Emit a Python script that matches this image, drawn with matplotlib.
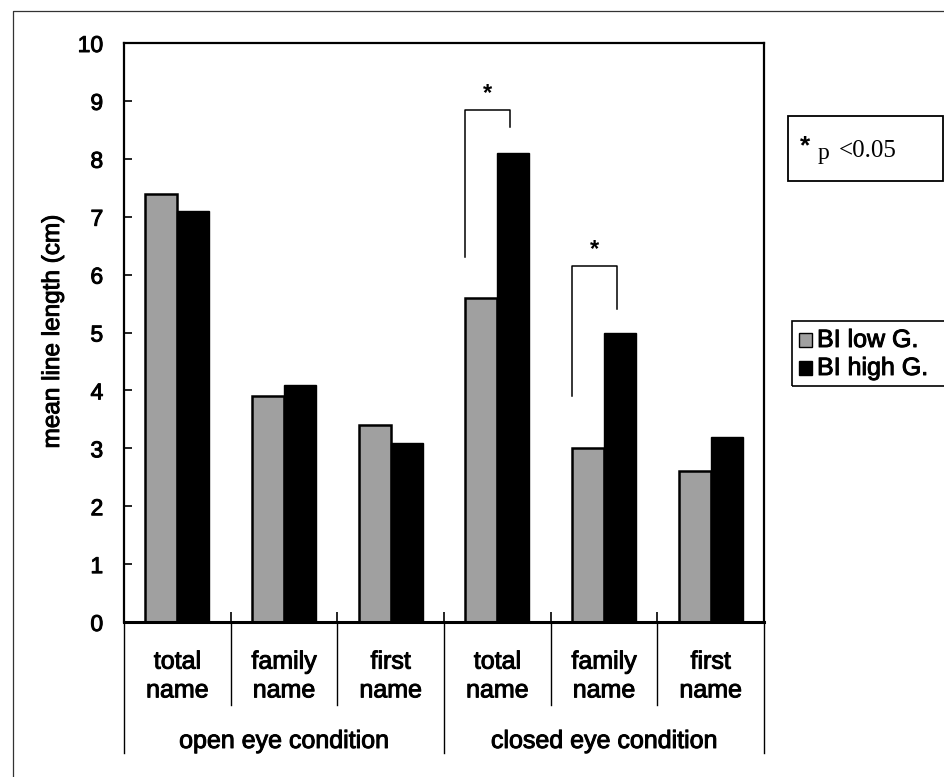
import matplotlib
matplotlib.use("Agg")
import matplotlib.pyplot as plt
from matplotlib.patches import Rectangle
from matplotlib.lines import Line2D
import matplotlib.patheffects as pe

plt.rcParams['font.family'] = ['Liberation Sans', 'DejaVu Sans']
thick = [pe.withStroke(linewidth=0.7, foreground='black')]

# ---- data ----
sub_labels = ["total\nname", "family\nname", "first\nname",
              "total\nname", "family\nname", "first\nname"]
group_labels = ["open eye condition", "closed eye condition"]
series_names = ["BI low G.", "BI high G."]
low_values = [7.4, 3.9, 3.4, 5.6, 3.0, 2.6]
high_values = [7.1, 4.1, 3.1, 8.1, 5.0, 3.2]
y_ticks = [0, 1, 2, 3, 4, 5, 6, 7, 8, 9, 10]
# significance brackets: category index, left leg bottom, bracket top, right leg bottom
sig_cat = [3, 4]
sig_left_bottom = [6.3, 3.9]
sig_top = [8.85, 6.15]
sig_right_bottom = [8.55, 5.4]
sig_text = "*"
p_note_star = "*"
p_note_text = "p"
p_note_val = "<0.05"

W, H = 945, 777
fig = plt.figure(figsize=(W / 100, H / 100), dpi=100)
ax_l, ax_r, ax_t, ax_b = 124, 764, 43, 622
ax = fig.add_axes([ax_l / W, 1 - ax_b / H, (ax_r - ax_l) / W, (ax_b - ax_t) / H])

n = len(sub_labels)
centers = [i + 0.5 for i in range(n)]
bw = 0.3
gray = '#a0a0a0'
ax.bar([c - bw / 2 for c in centers], low_values, width=bw, color=gray,
       edgecolor='black', linewidth=1.8, label=series_names[0], zorder=2)
ax.bar([c + bw / 2 for c in centers], high_values, width=bw, color='black',
       edgecolor='black', linewidth=1.0, label=series_names[1], zorder=2)

ax.set_xlim(0, n)
ax.set_ylim(0, 10)
ax.set_yticks(y_ticks)
ax.set_yticklabels([str(v) for v in y_ticks], fontsize=16.5)
for t in ax.get_yticklabels():
    t.set_path_effects(thick)
ax.tick_params(axis='y', direction='in', length=6, width=1.2, pad=15)
ax.set_xticks(list(range(1, n)))
ax.set_xticklabels([])
ax.tick_params(axis='x', direction='in', length=7, width=1.2)
for s in ax.spines.values():
    s.set_linewidth(1.6)
ax.spines['bottom'].set_linewidth(2.2)

# category labels and divider lines below the axis
axh = ax_b - ax_t
def yfrac(px):
    return (ax_b - px) / axh
tr = ax.get_xaxis_transform()
for c, lab in zip(centers, sub_labels):
    ax.text(c, yfrac(676), lab, transform=tr, ha='center', va='center',
            fontsize=18, linespacing=1.25, path_effects=thick)
for b in range(0, n + 1):
    end = 753 if b % 3 == 0 else 705
    ax.add_line(Line2D([b, b], [0, yfrac(end)], transform=tr, color='black',
                       linewidth=1.0, clip_on=False))
for g, lab in enumerate(group_labels):
    ax.text(g * 3 + 1.5, yfrac(741), lab, transform=tr, ha='center',
            va='center', fontsize=18, path_effects=thick)

# y label
fig.text(53 / W, 1 - 332 / H, "mean line length (cm)", rotation=90,
         ha='center', va='center', fontsize=17.5, path_effects=thick)

# significance brackets
for ci, lb, tp, rb in zip(sig_cat, sig_left_bottom, sig_top, sig_right_bottom):
    xl = centers[ci] - bw
    xr = centers[ci] + 0.12
    ax.plot([xl, xl, xr, xr], [lb, tp, tp, rb], color='black', linewidth=1.1,
            zorder=3)
    ax.text((xl + xr) / 2, tp + 0.08, sig_text, ha='center', va='bottom',
            fontsize=17, fontweight='bold')

# outer frame (left and top visible)
fig.add_artist(Line2D([13 / W, 13 / W, 1.02], [-0.02, 1 - 11 / H, 1 - 11 / H],
                      transform=fig.transFigure, color='#333333', linewidth=0.9))

# p-value note box
def fx(px):
    return px / W
def fy(py):
    return 1 - py / H
fig.add_artist(Rectangle((fx(788), fy(181)), fx(943) - fx(788), fy(116) - fy(181),
                         transform=fig.transFigure, fill=False,
                         edgecolor='black', linewidth=1.3))
fig.text(fx(805), fy(146), p_note_star, ha='center', va='center', fontsize=19,
         fontweight='bold')
fig.text(fx(818), fy(154), p_note_text, ha='left', va='center', fontsize=17,
         family=['Liberation Serif', 'DejaVu Serif'])
fig.text(fx(839), fy(151), p_note_val, ha='left', va='center', fontsize=18,
         family=['Liberation Serif', 'DejaVu Serif'])

# legend box
fig.add_artist(Rectangle((fx(792), fy(386)), fx(950) - fx(792), fy(321) - fy(386),
                         transform=fig.transFigure, fill=False,
                         edgecolor='black', linewidth=1.2))
legend_y = [340, 368]
legend_colors = [gray, 'black']
for yy, col, name in zip(legend_y, legend_colors, series_names):
    fig.add_artist(Rectangle((fx(799), fy(yy + 7)), fx(812) - fx(799),
                             fy(yy - 7) - fy(yy + 7), transform=fig.transFigure,
                             facecolor=col, edgecolor='black', linewidth=1.0))
    fig.text(fx(817), fy(yy), name, ha='left', va='center', fontsize=18,
             path_effects=thick)

fig.savefig("out.png", dpi=100, facecolor='white')
